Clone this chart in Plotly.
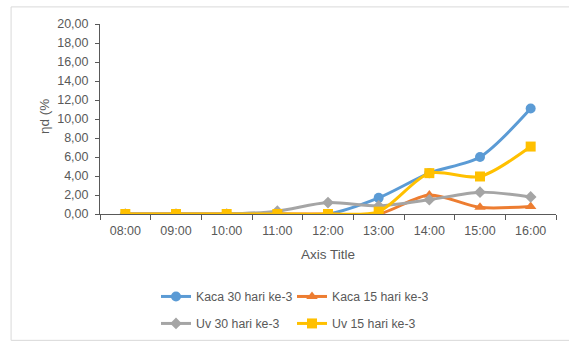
import plotly.graph_objects as go

# Hour-of-day categories
hours = ["08:00", "09:00", "10:00", "11:00", "12:00", "13:00", "14:00", "15:00", "16:00"]

# Efficiency values (%) per series
kaca_30 = [0, 0, 0, 0, 0, 1.7, 4.3, 6.0, 11.1]
kaca_15 = [0, 0, 0, 0, 0, 0, 2.0, 0.7, 0.8]
uv_30 = [0, 0, 0, 0.3, 1.2, 0.85, 1.5, 2.3, 1.8]
uv_15 = [0, 0, 0, 0, 0, 0.25, 4.3, 3.95, 7.1]

y_ticks = [0, 2, 4, 6, 8, 10, 12, 14, 16, 18, 20]

FONT = "Liberation Sans, Arial, sans-serif"
TXT = "#595959"
AXIS = "#595959"

series = [
    ("Kaca 30 hari ke-3", kaca_30, "#5B9BD5", "circle", 10, "legend"),
    ("Kaca 15 hari ke-3", kaca_15, "#ED7D31", "triangle-up", 10, "legend"),
    ("Uv 30 hari ke-3", uv_30, "#A5A5A5", "diamond", 9, "legend2"),
    ("Uv 15 hari ke-3", uv_15, "#FFC000", "square", 10, "legend2"),
]

fig = go.Figure()
for name, vals, color, sym, size, leg in series:
    fig.add_trace(go.Scatter(
        x=hours, y=vals, name=name, mode="lines+markers",
        line=dict(color=color, width=3, shape="spline", smoothing=0.8),
        marker=dict(symbol=sym, size=size, color=color),
        legend=leg,
    ))

legend_common = dict(
    orientation="h", xanchor="left", yanchor="middle",
    font=dict(family=FONT, size=12.3, color=TXT),
    entrywidth=91, entrywidthmode="pixels",
    bgcolor="rgba(0,0,0,0)", traceorder="normal",
)

fig.update_layout(
    width=569, height=342,
    margin=dict(l=100, r=13, t=24, b=128, autoexpand=False),
    paper_bgcolor="white", plot_bgcolor="white",
    separators=",.",
    font=dict(family=FONT, size=12, color=TXT),
    xaxis=dict(
        type="category", categoryorder="array", categoryarray=hours,
        range=[-0.5, 8.5], showgrid=False, zeroline=False,
        showline=True, linecolor=AXIS, linewidth=1,
        ticks="outside", ticklen=5, tickcolor=AXIS, tickson="boundaries",
        ticklabelstandoff=5,
        tickfont=dict(family=FONT, size=12.5, color=TXT),
        automargin=False,
    ),
    yaxis=dict(
        range=[0, 20], tickvals=y_ticks, tickformat=".2f",
        showgrid=False, zeroline=False,
        showline=True, linecolor=AXIS, linewidth=1,
        ticks="outside", ticklen=4, tickcolor=AXIS, ticklabelstandoff=4,
        tickfont=dict(family=FONT, size=12.5, color=TXT),
        automargin=False,
    ),
    legend=dict(x=0.1228, y=-0.434, **legend_common),
    legend2=dict(x=0.1228, y=-0.576, **legend_common),
    annotations=[
        dict(text="Axis Title", xref="paper", yref="paper", x=0.5, y=-0.2135,
             xanchor="center", yanchor="middle", showarrow=False,
             font=dict(family=FONT, size=13.5, color=TXT)),
        dict(text="ηd (%", xref="paper", yref="paper", x=-0.1228, y=0.51,
             xanchor="center", yanchor="middle", showarrow=False, textangle=-90,
             font=dict(family=FONT, size=13.5, color=TXT)),
    ],
    shapes=[dict(
        type="rect", xref="paper", yref="paper",
        x0=-0.195, x1=1.05, y0=-0.665, y1=1.09,
        line=dict(color="#D9D9D9", width=1), fillcolor="rgba(0,0,0,0)", layer="below",
    )],
)

fig.write_html("out.html")
